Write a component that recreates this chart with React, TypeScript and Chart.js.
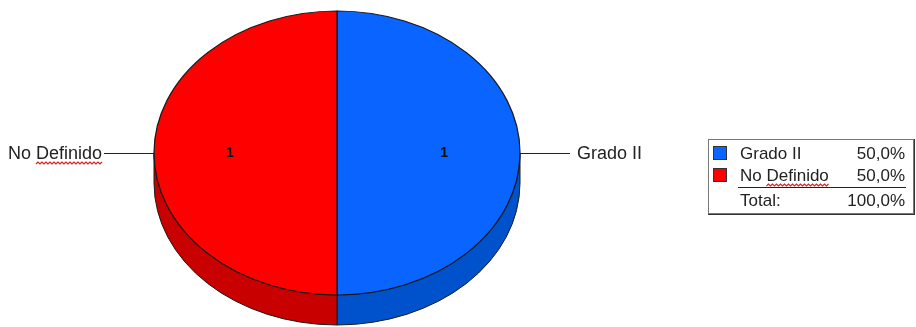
import React, { useEffect, useRef } from "react";
import { Chart, registerables } from "chart.js";

Chart.register(...registerables);

const categories = ["Grado II", "No Definido"];
const counts = [1, 1];
const topColors = ["#0A64FF", "#FF0000"];
const sideColors = ["#0052CC", "#C80000"];
const totalLabel = "Total:";

const FONT = "'Liberation Sans', Arial, sans-serif";

function pct(v: number, total: number) {
  return (v / total * 100).toFixed(1).replace(".", ",") + "%";
}

function wavy(ctx: CanvasRenderingContext2D, x0: number, x1: number, y: number) {
  ctx.save();
  ctx.strokeStyle = "#D82020";
  ctx.lineWidth = 1.2;
  ctx.beginPath();
  let up = true;
  ctx.moveTo(x0, y);
  for (let x = x0 + 2; x <= x1; x += 2) {
    ctx.lineTo(x, up ? y - 2 : y);
    up = !up;
  }
  ctx.stroke();
  ctx.restore();
}

// draws text, and wavy spell-check line under the word "Definido" if present
function textWithSpell(ctx: CanvasRenderingContext2D, s: string, x: number, y: number) {
  ctx.fillText(s, x, y);
  const idx = s.indexOf("Definido");
  if (idx >= 0) {
    const align = ctx.textAlign;
    const full = ctx.measureText(s).width;
    const left = align === "right" ? x - full : x;
    const pre = ctx.measureText(s.slice(0, idx)).width;
    const w = ctx.measureText("Definido").width;
    wavy(ctx, left + pre, left + pre + w, y + 5);
  }
}

const SX = 183 / 142;
const SY = 1;
const DEPTH = 30;

const pie3d = {
  id: "pie3d",
  beforeDatasetsDraw(chart: any) {
    const ctx = chart.ctx as CanvasRenderingContext2D;
    const meta = chart.getDatasetMeta(0);
    const a0 = meta.data[0] as any;
    const cx = a0.x, cy = a0.y, R = a0.outerRadius;
    const rx = R * SX, ry = R * SY;
    meta.data.forEach((arc: any, i: number) => {
      const ranges = [[0, Math.PI], [2 * Math.PI, 3 * Math.PI]];
      ranges.forEach(([lo, hi]) => {
        const s = Math.max(arc.startAngle, lo);
        const e = Math.min(arc.endAngle, hi);
        if (e <= s) return;
        ctx.save();
        ctx.beginPath();
        ctx.ellipse(cx, cy, rx, ry, 0, s, e, false);
        ctx.ellipse(cx, cy + DEPTH, rx, ry, 0, e, s, true);
        ctx.closePath();
        ctx.fillStyle = sideColors[i];
        ctx.fill();
        ctx.strokeStyle = "#1a1a1a";
        ctx.lineWidth = 1;
        ctx.stroke();
        ctx.restore();
      });
    });
    ctx.save();
    ctx.translate(cx, cy);
    ctx.scale(SX, SY);
    ctx.translate(-cx, -cy);
  },
  afterDatasetsDraw(chart: any) {
    const ctx = chart.ctx as CanvasRenderingContext2D;
    ctx.restore();
    const meta = chart.getDatasetMeta(0);
    const a0 = meta.data[0] as any;
    const cx = a0.x, cy = a0.y, R = a0.outerRadius;
    const rx = R * SX, ry = R * SY;
    const data = chart.data.datasets[0].data as number[];
    meta.data.forEach((arc: any, i: number) => {
      const mid = (arc.startAngle + arc.endAngle) / 2;
      const c = Math.cos(mid), s = Math.sin(mid);
      ctx.save();
      ctx.fillStyle = "#111";
      ctx.font = "bold 14px " + FONT;
      ctx.textAlign = "center";
      ctx.textBaseline = "middle";
      ctx.fillText(String(data[i]), cx + 0.585 * rx * c, cy + 0.585 * ry * s);
      const ex = cx + rx * c, ey = cy + ry * s;
      const lx = ex + 50 * Math.sign(c);
      ctx.strokeStyle = "#222";
      ctx.lineWidth = 1;
      ctx.beginPath();
      ctx.moveTo(ex, Math.round(ey) + 0.5);
      ctx.lineTo(lx, Math.round(ey) + 0.5);
      ctx.stroke();
      ctx.font = "18px " + FONT;
      ctx.fillStyle = "#222";
      ctx.textAlign = c >= 0 ? "left" : "right";
      ctx.textBaseline = "alphabetic";
      const gap = c >= 0 ? 7 : 2;
      textWithSpell(ctx, categories[i], lx + gap * Math.sign(c), ey + 6);
      ctx.restore();
    });
  },
  afterDraw(chart: any) {
    const ctx = chart.ctx as CanvasRenderingContext2D;
    const total = counts.reduce((a, b) => a + b, 0);
    ctx.save();
    ctx.fillStyle = "#fff";
    ctx.fillRect(708, 139, 205, 74);
    ctx.strokeStyle = "#777";
    ctx.lineWidth = 1;
    ctx.strokeRect(708.5, 139.5, 205, 74);
    ctx.strokeStyle = "#333";
    ctx.beginPath();
    ctx.moveTo(708, 214.5);
    ctx.lineTo(914, 214.5);
    ctx.moveTo(914.5, 139);
    ctx.lineTo(914.5, 215);
    ctx.stroke();
    ctx.font = "17px " + FONT;
    ctx.textBaseline = "alphabetic";
    categories.forEach((cat, i) => {
      const y = 146 + i * 22;
      ctx.fillStyle = topColors[i];
      ctx.fillRect(713, y, 14, 14);
      ctx.strokeStyle = "#333";
      ctx.strokeRect(713.5, y + 0.5, 13, 13);
      ctx.fillStyle = "#222";
      ctx.textAlign = "left";
      textWithSpell(ctx, cat, 740, y + 13);
      ctx.textAlign = "right";
      ctx.fillText(pct(counts[i], total), 905, y + 13);
    });
    ctx.strokeStyle = "#222";
    ctx.beginPath();
    ctx.moveTo(738, 187.5);
    ctx.lineTo(906, 187.5);
    ctx.stroke();
    ctx.fillStyle = "#222";
    ctx.textAlign = "left";
    ctx.fillText(totalLabel, 740, 206);
    ctx.textAlign = "right";
    ctx.fillText(pct(total, total), 905, 206);
    ctx.restore();
  },
};

export default function App() {
  const ref = useRef<HTMLCanvasElement | null>(null);
  useEffect(() => {
    document.body.style.margin = "0";
    const canvas = ref.current!;
    const chart = new Chart(canvas, {
      type: "pie",
      data: {
        labels: categories,
        datasets: [
          {
            data: counts,
            backgroundColor: topColors,
            borderColor: "#1a1a1a",
            borderWidth: 1,
            radius: 142,
            clip: false as any,
          } as any,
        ],
      },
      options: {
        responsive: false,
        animation: false,
        events: [],
        layout: { padding: { left: 0, right: 242, top: 0, bottom: 21 } },
        plugins: { legend: { display: false }, tooltip: { enabled: false } },
      },
      plugins: [pie3d],
    });
    return () => chart.destroy();
  }, []);
  return (
    <div style={{ width: 916, height: 327, background: "#fff" }}>
      <canvas ref={ref} width={916} height={327} style={{ display: "block" }} />
    </div>
  );
}
